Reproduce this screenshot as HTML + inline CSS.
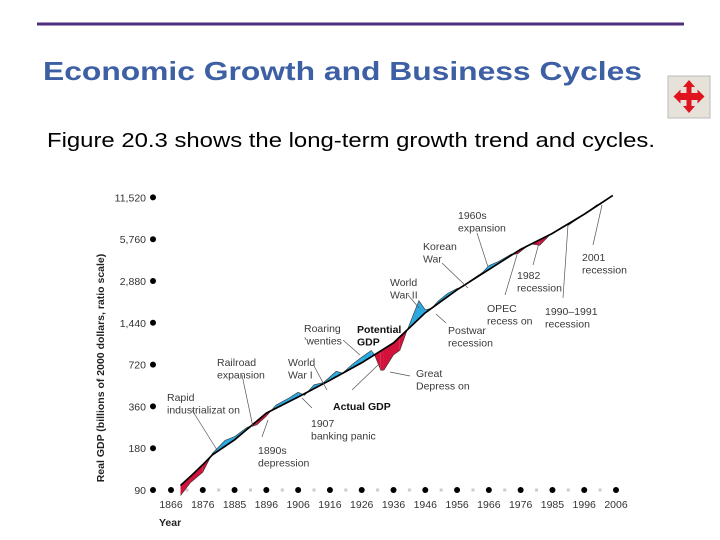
<!DOCTYPE html>
<html><head><meta charset="utf-8"><style>
html,body{margin:0;padding:0;background:#fff;width:720px;height:540px;overflow:hidden}
svg{display:block;font-family:"Liberation Sans",Arial,sans-serif}
.ann{font-size:10.5px;fill:#3a3a3a}
.lead{stroke:#555;stroke-width:0.7;fill:none}
</style></head><body>
<svg id="chart" width="720" height="540" viewBox="0 0 720 540">
<line x1="37" y1="24" x2="684" y2="24" stroke="#4f2d7f" stroke-width="3"/>
<text x="43" y="80" font-size="26" font-weight="bold" fill="#3d5fa3" textLength="599" lengthAdjust="spacingAndGlyphs">Economic Growth and Business Cycles</text>
<text x="47" y="147" font-size="20" fill="#000" textLength="608" lengthAdjust="spacingAndGlyphs">Figure 20.3 shows the long-term growth trend and cycles.</text>
<g>
<rect x="668" y="76" width="42" height="42" fill="#e6e2da" stroke="#bbb" stroke-width="1"/>
<path d="M689 80 l6 7 h-3.5 v6 h6 v-3.5 l7 7 l-7 7 v-3.5 h-6 v6 h3.5 l-6 7 l-6 -7 h3.5 v-6 h-6 v3.5 l-7 -7 l7 -7 v3.5 h6 v-6 h-3.5 z" fill="#e0141e"/>
</g>
<g id="axes"></g>
<g id="fills"></g>
<g id="lines"></g>
<g id="annots"></g>
</svg>
<script>
const yTickVals=[90,180,360,720,1440,2880,5760,11520];
const yTickLabels=["90","180","360","720","1,440","2,880","5,760","11,520"];
const xTickYears=[1866,1876,1886,1896,1906,1916,1926,1936,1946,1956,1966,1976,1986,1996,2006];
const xTickLabels=["1866","1876","1885","1896","1906","1916","1926","1936","1946","1956","1966","1976","1985","1996","2006"];
const potYears=[1869,1872,1876,1879,1886,1896,1906,1916,1926,1936,1946,1956,1966,1976,1986,1996,2005];
const potValues=[97,112,137,161,207,322,421,555,742,1032,1700,2490,3480,4870,6340,8710,11900];
const actYears=[1869,1872,1876,1879,1883,1886,1890,1893,1896,1899,1903,1906,1908,1911,1914,1918,1920,1923,1926,1929,1930,1932,1933,1936,1938,1940,1942,1944,1946,1948,1950,1953,1956,1958,1960,1964,1966,1969,1973,1975,1979,1982,1985,1990,1991,1996,2000,2001,2005];
const actValues=[82,101,121,165,205,218,255,265,306,368,412,455,432,515,535,645,625,722,815,910,850,655,658,846,912,1222,1600,2080,1785,1830,2060,2340,2540,2630,2880,3320,3720,3980,4490,4510,5330,5210,6120,7270,7250,8710,10200,10250,11900];

const NS="http://www.w3.org/2000/svg";
const X=yr=>171+(yr-1866)*(616-171)/140;
const Y=v=>490-41.8*Math.log2(v/90);
function mk(tag,attrs,parent){const e=document.createElementNS(NS,tag);for(const k in attrs)e.setAttribute(k,attrs[k]);document.getElementById(parent).appendChild(e);return e;}
function potAt(yr){
  for(let i=0;i<potYears.length-1;i++){
    if(yr>=potYears[i]&&yr<=potYears[i+1]){const t=(yr-potYears[i])/(potYears[i+1]-potYears[i]);
      return Math.exp(Math.log(potValues[i])*(1-t)+Math.log(potValues[i+1])*t);}
  }
  return potValues[potValues.length-1];
}
yTickVals.forEach((v,i)=>{
  const d=mk('circle',{cx:153,cy:Y(v),r:3,fill:'#000'},'axes');
  
  
  const t=mk('text',{x:146,y:Y(v)+4,'text-anchor':'end','font-size':10.5,fill:'#333'},'axes');
  t.textContent=yTickLabels[i];
  
  
});
xTickYears.forEach((yr,i)=>{
  const d=mk('circle',{cx:X(yr),cy:490,r:3,fill:'#000'},'axes');
  
  
  if(i<xTickYears.length-1){
    const g=mk('rect',{x:X(yr+5)-1.5,y:488.5,width:3,height:3,fill:'#ccc'},'axes');
    
    
  }
  const t=mk('text',{x:X(yr),y:508,'text-anchor':'middle','font-size':10.5,fill:'#333'},'axes');
  t.textContent=xTickLabels[i];
  
  
});
const xt=mk('text',{x:159,y:526,'font-size':10.5,'font-weight':'bold',fill:'#222'},'axes');
xt.textContent='Year';


const yt=mk('text',{x:0,y:0,'font-size':10.5,'font-weight':'bold',fill:'#222','text-anchor':'middle',transform:'translate(104,368) rotate(-90)'},'axes');
yt.textContent='Real GDP (billions of 2000 dollars, ratio scale)';


for(let i=0;i<actYears.length-1;i++){
  const y0=actYears[i],y1=actYears[i+1];
  const a0=Y(actValues[i]),a1=Y(actValues[i+1]),p0=Y(potAt(y0)),p1=Y(potAt(y1));
  const x0=X(y0),x1=X(y1);
  const d0=a0-p0,d1=a1-p1;
  const segs=[];
  if(d0*d1<0){const t=d0/(d0-d1);const xm=x0+(x1-x0)*t,ym=p0+(p1-p0)*t;
    segs.push([`${x0},${a0} ${xm},${ym} ${x0},${p0}`,d0]);
    segs.push([`${xm},${ym} ${x1},${a1} ${x1},${p1}`,d1]);
  } else segs.push([`${x0},${a0} ${x1},${a1} ${x1},${p1} ${x0},${p0}`,d0+d1]);
  segs.forEach(s=>{
    const poly=mk('polygon',{points:s[0],fill:s[1]<0?'#2aa8df':'#d3123c'},'fills');
    
    
  });
}
const ap=actYears.map((yr,i)=>X(yr)+','+Y(actValues[i])).join(' ');
const al=mk('polyline',{points:ap,fill:'none',stroke:'#333','stroke-width':0.6},'lines');


const pp=potYears.map((yr,i)=>X(yr)+','+Y(potValues[i])).join(' ');
const pl=mk('polyline',{points:pp,fill:'none',stroke:'#000','stroke-width':1.7},'lines');


</script>
<script>
const annots=[
 ["rapid-industrialization-label",167,[ "Rapid","industrializat on"],392,false,[[192,410,217,450]]],
 ["railroad-expansion-label",217,["Railroad","expansion"],357,false,[[242,375,253,427]]],
 ["1890s-depression-label",258,["1890s","depression"],445,false,[[262,437,268,420]]],
 ["world-war-1-label",288,["World","War I"],357,false,[[314,366,327,390]]],
 ["roaring-twenties-label",304,["Roaring","\u2019wenties"],323,false,[[343,340,360,355]]],
 ["potential-gdp-label",357,["Potential","GDP"],324,true,[]],
 ["1907-panic-label",311,["1907","banking panic"],418,false,[[312,408,302,398]]],
 ["actual-gdp-label",333,["Actual GDP"],401,true,[[352,390,378,365]]],
 ["1960s-expansion-label",458,["1960s","expansion"],210,false,[[477,233,488,267]]],
 ["korean-war-label",423,["Korean","War"],241,false,[[442,263,468,288]]],
 ["world-war-2-label",390,["World","War II"],277,false,[[408,295,419,308]]],
 ["postwar-recession-label",448,["Postwar","recession"],325,false,[[446,323,436,314]]],
 ["opec-recession-label",487,["OPEC","recess on"],303,false,[[505,295,517,255]]],
 ["1982-recession-label",517,["1982","recession"],270,false,[[533,265,539,243]]],
 ["2001-recession-label",582,["2001","recession"],252,false,[[593,245,602,205]]],
 ["1990-1991-recession-label",545,["1990\u20131991","recession"],306,false,[[563,298,568,225]]],
 ["great-depression-label",416,["Great","Depress on"],368,false,[[390,372,410,376]]]
];
const g=document.getElementById('annots');
annots.forEach(a=>{
  a[5].forEach(l=>{
    const ln=document.createElementNS(NS,'line');
    ln.setAttribute('x1',l[0]);ln.setAttribute('y1',l[1]);ln.setAttribute('x2',l[2]);ln.setAttribute('y2',l[3]);
    ln.setAttribute('class','lead');
    
    
    g.appendChild(ln);
  });
  const t=document.createElementNS(NS,'text');
  t.setAttribute('class','ann');
  if(a[4]){t.setAttribute('font-weight','bold');t.setAttribute('style','fill:#111');}
  a[2].forEach((s,i)=>{const ts=document.createElementNS(NS,'tspan');ts.setAttribute('x',a[1]);ts.setAttribute('y',a[3]+9+i*12.5);ts.textContent=s;t.appendChild(ts);});
  
  
  g.appendChild(t);
});
</script>
</body></html>
